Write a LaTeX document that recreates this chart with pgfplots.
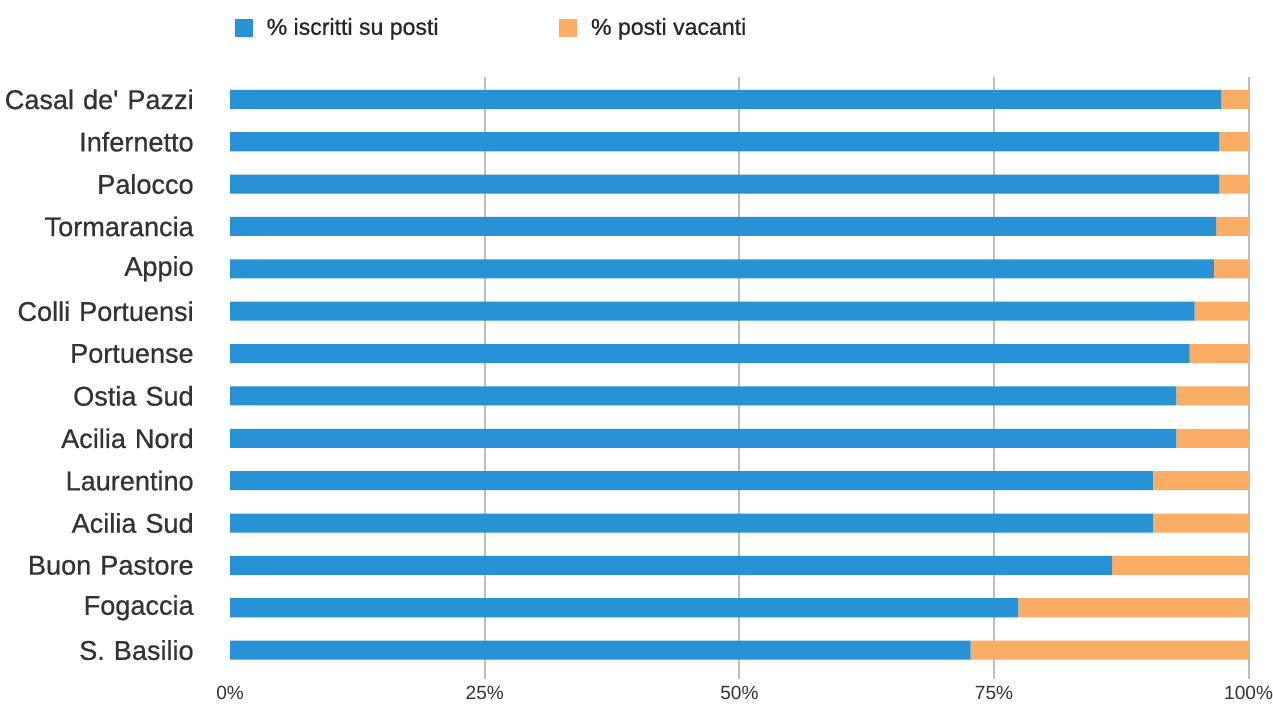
\documentclass[border=0pt]{standalone}
\usepackage{fontspec}
\setmainfont{Liberation Sans}
\newfontfamily\medsans[FakeBold=0.6]{Liberation Sans}
\usepackage{pgfplots}
\usepackage{pgfplotstable}
\pgfplotsset{compat=1.18}

\definecolor{iscritti}{HTML}{2892D7}
\definecolor{vacanti}{HTML}{FBAC65}
\definecolor{txt}{HTML}{333333}
\definecolor{gridc}{HTML}{BDBDBD}

% share of places taken / vacant, top row first
\pgfplotstableread[col sep=comma]{
idx,name,iscr,vac
0,Casal de\textquotesingle{} Pazzi,97.3,2.7
1,Infernetto,97.1,2.9
2,Palocco,97.1,2.9
3,Tormarancia,96.8,3.2
4,Appio,96.6,3.4
5,Colli Portuensi,94.7,5.3
6,Portuense,94.2,5.8
7,Ostia Sud,92.9,7.1
8,Acilia Nord,92.9,7.1
9,Laurentino,90.6,9.4
10,Acilia Sud,90.6,9.4
11,Buon Pastore,86.6,13.4
12,Fogaccia,77.4,22.6
13,S. Basilio,72.7,27.3
}\data

\begin{document}
\begin{tikzpicture}
\begin{axis}[
    scale only axis,
    width=507.5pt, height=300pt,
    xbar stacked,
    bar width=9.5pt,
    y dir=reverse,
    xmin=0, xmax=100,
    ymin=-0.52, ymax=13.69,
    ytick={0,...,13},
    yticklabels from table={\data}{name},
    xtick={0,25,50,75,100},
    xticklabel={\pgfmathprintnumber{\tick}\%},
    extra x ticks={25,50,75,100},
    extra x tick labels={},
    extra x tick style={grid=major, major grid style={color=gridc, line width=1pt}},
    axis line style={draw=none},
    tick style={draw=none},
    /pgf/number format/assume math mode=true,
    tick label style={font=\fontsize{9.5}{10}\selectfont, text=txt},
    yticklabel style={font=\medsans\fontsize{13.5}{14}\selectfont, text=txt, inner sep=0pt,
        text width=96.5pt, align=right, xshift=-18pt},
    xticklabel style={inner xsep=0pt, inner ysep=2.5pt, yshift=-0.5pt},
    legend columns=2,
    legend style={draw=none, at={(0,1)}, anchor=south west, yshift=10.5pt, xshift=-1pt,
        inner ysep=7pt,
        font=\medsans\fontsize{11.5}{12}\selectfont, text=black!85,
        /tikz/every odd column/.append style={column sep=5pt},
        /tikz/every even column/.append style={column sep=58pt}},
    legend image code/.code={\fill[#1] (0pt,-4.5pt) rectangle (9pt,4.5pt);},
]
\addplot[fill=iscritti, draw=none] table[x=iscr, y=idx] {\data};
\addplot[fill=vacanti, draw=none] table[x=vac, y=idx] {\data};
\legend{\% iscritti su posti, \% posti vacanti}
\end{axis}
\end{tikzpicture}
\end{document}
